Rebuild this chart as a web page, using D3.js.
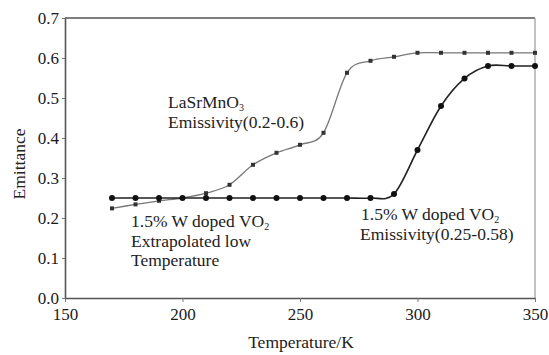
<!DOCTYPE html>
<html>
<head>
<meta charset="utf-8">
<script src="https://cdn.jsdelivr.net/npm/d3@7"></script>
<style>
  html, body { margin: 0; padding: 0; background: #fff; }
  svg { display: block; }
  svg text { font-family: 'Liberation Serif', 'Times New Roman', Times, 'DejaVu Serif', serif; }
</style>
</head>
<body>
<div id="draw_svg"></div>
<script>
// temperatures (K) shared by both series
const temps = [170, 180, 190, 200, 210, 220, 230, 240, 250, 260, 270, 280, 290, 300, 310, 320, 330, 340, 350];
// LaSrMnO3 emissivity
const lsmoValues = [0.224, 0.234, 0.243, 0.250, 0.262, 0.283, 0.333, 0.363, 0.383, 0.413, 0.563, 0.593, 0.603, 0.613, 0.613, 0.613, 0.613, 0.613, 0.613];
// 1.5% W doped VO2 emissivity
const vo2Values = [0.25, 0.25, 0.25, 0.25, 0.25, 0.25, 0.25, 0.25, 0.25, 0.25, 0.25, 0.25, 0.26, 0.37, 0.48, 0.549, 0.58, 0.58, 0.58];
const xTicks = [150, 200, 250, 300, 350];
const yTicks = [0.0, 0.1, 0.2, 0.3, 0.4, 0.5, 0.6, 0.7];

const W = 549, H = 355;
const margin = {left: 65, right: 14, top: 18, bottom: 57};
const FONT = "'Liberation Serif', 'Times New Roman', Times, 'DejaVu Serif', serif";

/**
 * 绘制图表
 */
drawChart = () => {
    const svg = d3.select('#draw_svg')
        .append('svg')
        .attr('width', W)
        .attr('height', H)
        .attr('font-family', FONT);

    const x = d3.scaleLinear().domain([150, 350]).range([margin.left, W - margin.right]);
    const y = d3.scaleLinear().domain([0, 0.7]).range([H - margin.bottom, margin.top]);

    // frame: top and right
    svg.append('line')
        .attr('x1', x(150)).attr('x2', x(350))
        .attr('y1', y(0.7)).attr('y2', y(0.7))
        .attr('stroke', '#555').attr('stroke-width', 1.3);
    svg.append('line')
        .attr('x1', x(350)).attr('x2', x(350))
        .attr('y1', y(0.7)).attr('y2', y(0))
        .attr('stroke', '#999').attr('stroke-width', 1.2);

    // axes
    const xAxis = svg.append('g')
        .attr('transform', `translate(0,${y(0)})`)
        .call(d3.axisBottom(x).tickValues(xTicks).tickSize(4).tickPadding(6).tickSizeOuter(0));
    const yAxis = svg.append('g')
        .attr('transform', `translate(${x(150)},0)`)
        .call(d3.axisLeft(y).tickValues(yTicks).tickSize(3).tickPadding(3).tickSizeOuter(0)
            .tickFormat(d3.format('.1f')));

    [xAxis, yAxis].forEach(g => {
        g.attr('font-family', FONT).attr('font-size', 17);
        g.select('.domain').attr('stroke', '#555').attr('stroke-width', 1.6);
        g.selectAll('.tick line').attr('stroke', '#777');
        g.selectAll('.tick text')
            .attr('fill', '#1a1a1a')
            .style('font-family', FONT)
            .style('font-size', '17px');
    });

    // axis titles
    svg.append('text')
        .attr('x', 301).attr('y', 348)
        .attr('text-anchor', 'middle')
        .attr('fill', '#222')
        .style('font-family', FONT)
        .style('font-size', '17.5px')
        .text('Temperature/K');
    svg.append('text')
        .attr('transform', 'translate(25,164) rotate(-90)')
        .attr('text-anchor', 'middle')
        .attr('fill', '#222')
        .style('font-family', FONT)
        .style('font-size', '17.5px')
        .text('Emittance');

    const lsmo = temps.map((t, i) => ({t, v: lsmoValues[i]}));
    const vo2 = temps.map((t, i) => ({t, v: vo2Values[i]}));

    const line = d3.line()
        .x(d => x(d.t))
        .y(d => y(d.v))
        .curve(d3.curveCardinal.tension(0));

    // LaSrMnO3 line + square markers
    svg.append('path')
        .datum(lsmo)
        .attr('d', line)
        .attr('fill', 'none')
        .attr('stroke', '#777')
        .attr('stroke-width', 1.3);
    svg.selectAll('rect.lsmo')
        .data(lsmo)
        .enter()
        .append('rect')
        .attr('class', 'lsmo')
        .attr('x', d => x(d.t) - 2)
        .attr('y', d => y(d.v) - 2)
        .attr('width', 4)
        .attr('height', 4)
        .attr('fill', '#333');

    // VO2 line + circle markers
    svg.append('path')
        .datum(vo2)
        .attr('d', line)
        .attr('fill', 'none')
        .attr('stroke', '#222')
        .attr('stroke-width', 1.6);
    svg.selectAll('circle.vo2')
        .data(vo2)
        .enter()
        .append('circle')
        .attr('class', 'vo2')
        .attr('cx', d => x(d.t))
        .attr('cy', d => y(d.v))
        .attr('r', 3)
        .attr('fill', '#111');

    // annotations
    const note = (px, py, main, sub) => {
        const t = svg.append('text')
            .attr('x', px).attr('y', py)
            .attr('fill', '#222')
            .style('font-family', FONT)
            .style('font-size', '17.5px');
        t.append('tspan').text(main);
        if (sub) {
            t.append('tspan').attr('dy', 2.5).style('font-size', '10px').text(sub);
        }
    };

    note(168, 108, 'LaSrMnO', '3');
    note(168, 128, 'Emissivity(0.2-0.6)');

    note(131, 227, '1.5% W doped VO', '2');
    note(131, 247, 'Extrapolated low');
    note(131, 266, 'Temperature');

    note(361, 220, '1.5% W doped VO', '2');
    note(360, 240, 'Emissivity(0.25-0.58)');
}

window.onload = () => {
    drawChart();
}
</script>
</body>
</html>
